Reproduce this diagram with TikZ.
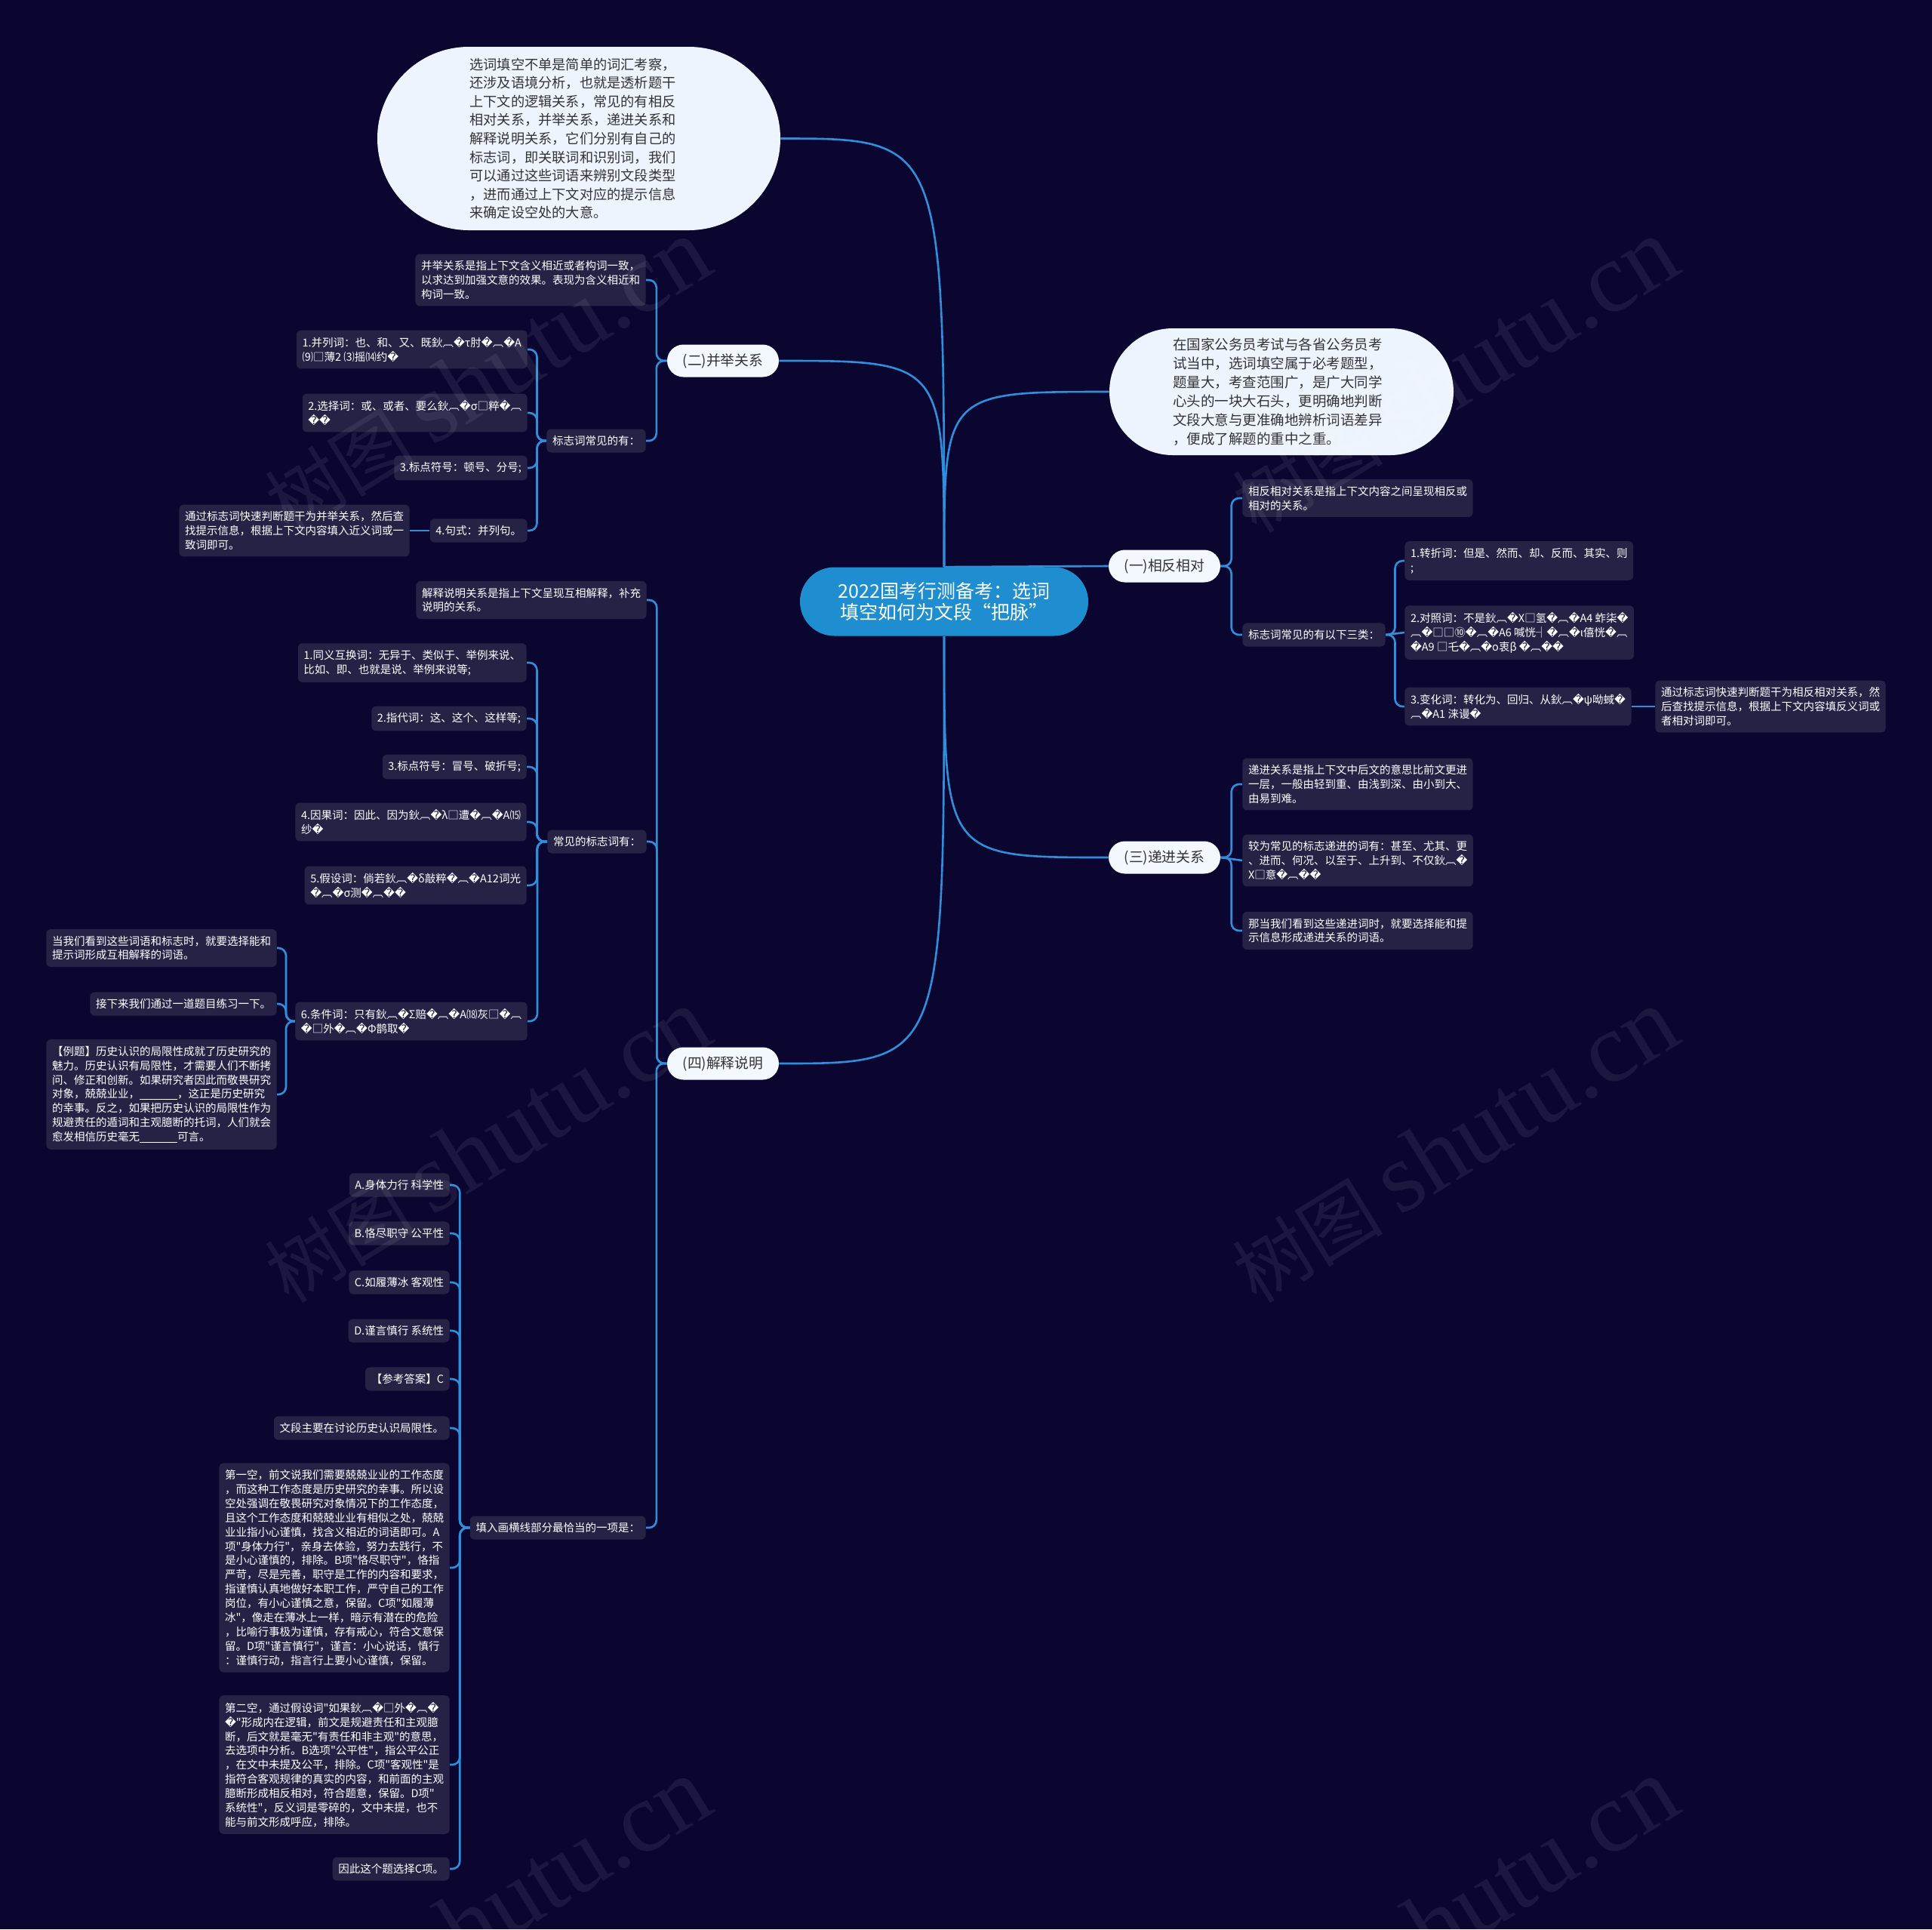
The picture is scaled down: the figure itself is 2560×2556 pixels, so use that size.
\documentclass[tikz,border=0pt]{standalone}
\usepackage{fontspec}
\setmainfont{Noto Sans CJK SC}[Ligatures=TeXOff]
\newfontfamily\dejavu{DejaVu Sans}
\newfontfamily\wmlat{Liberation Serif}
\usetikzlibrary{shapes.misc,calc}
\definecolor{bgc}{HTML}{0B0630}
\definecolor{boxc}{HTML}{262246}
\definecolor{linec}{HTML}{2E8FDC}
\definecolor{cenc}{HTML}{1E8ED0}
\definecolor{bubc}{HTML}{EEF4FD}
\definecolor{pillc}{HTML}{F3F7FE}
\definecolor{txtd}{HTML}{333333}
\newcommand\Q{{\dejavu\char"FFFD}}
\newcommand\fillblank{\rule[-1.2pt]{25pt}{0.45pt}}
\newcommand\elbow[2]{\coordinate (em) at ($(#1)!0.5!(#2)$);
  \draw[conn,rounded corners=5pt] (#1) -- (em |- #1) -- (em |- #2) -- (#2);}
\pgfdeclarelayer{bglayer}\pgfdeclarelayer{connlayer}\pgfdeclarelayer{wmlayer}
\pgfsetlayers{bglayer,connlayer,main,wmlayer}
\tikzset{
  conn/.style={draw=linec, line width=1.3pt},
  box/.style={fill=boxc, rounded corners=3pt, text=white, align=left,
    font=\fontsize{7.25pt}{9.45pt}\selectfont, inner xsep=3.8pt, inner ysep=4.4pt},
  pill/.style={rounded rectangle, fill=pillc, text=txtd, inner sep=0pt,
    font=\fontsize{9.4pt}{11pt}\selectfont, minimum width=74pt, minimum height=21.5pt},
  bubble/.style={rounded rectangle, fill=bubc, text=txtd, align=left, inner sep=0pt},
  wm/.style={rotate=31.7, text=white, opacity=0.07, inner sep=0pt},
}
\begin{document}
\begin{tikzpicture}[x=0.5pt,y=-0.5pt]
\begin{pgfonlayer}{bglayer}
\fill[bgc] (0,0) rectangle (2560,2556);
\end{pgfonlayer}
\useasboundingbox (0,0) rectangle (2560,2556);

% centre
\node[rounded rectangle, fill=cenc, text=white, align=center, inner sep=0pt,
  font=\fontsize{12.5pt}{14pt}\selectfont, minimum width=191pt, minimum height=45.5pt]
  (cen) at (1251,797) {2022国考行测备考：选词\\填空如何为文段“把脉”};

% bubbles
\node[bubble, font=\fontsize{9.1pt}{12.3pt}\selectfont, minimum width=267pt, minimum height=121.5pt]
  (tb) at (767,183.5) {选词填空不单是简单的词汇考察，\hspace*{8pt}\\还涉及语境分析，也就是透析题干\\上下文的逻辑关系，常见的有相反\\相对关系，并举关系，递进关系和\\解释说明关系，它们分别有自己的\\标志词，即关联词和识别词，我们\\可以通过这些词语来辨别文段类型\\，进而通过上下文对应的提示信息\\来确定设空处的大意。};
\node[bubble, font=\fontsize{9.25pt}{12.5pt}\selectfont, minimum width=228pt, minimum height=84pt]
  (rb) at (1698,519) {在国家公务员考试与各省公务员考\hspace*{5pt}\\试当中，选词填空属于必考题型，\\题量大，考查范围广，是广大同学\\心头的一块大石头，更明确地判断\\文段大意与更准确地辨析词语差异\\，便成了解题的重中之重。};

% section pills
\node[pill] (p2) at (958,478) {(二)并举关系};
\node[pill] (p1) at (1543,750) {(一)相反相对};
\node[pill] (p3) at (1543,1136) {(三)递进关系};
\node[pill] (p4) at (958,1409) {(四)解释说明};

% (二)
\node[box, anchor=east] (b2a) at (856,371) {并举关系是指上下文含义相近或者构词一致，\\以求达到加强文意的效果。表现为含义相近和\\构词一致。};
\node[box, anchor=east] (b2b) at (856,584) {标志词常见的有：};
\node[box, anchor=east] (b2c1) at (699,463) {1.并列词：也、和、又、既鈥︹\Q{}τ肘\Q{}︹\Q{}A\\⑼□薄2 ⑶摇⒁约\Q};
\node[box, anchor=east] (b2c2) at (699,547) {2.选择词：或、或者、要么鈥︹\Q{}σ□粹\Q{}︹\\\Q\Q};
\node[box, anchor=east] (b2c3) at (699,620) {3.标点符号：顿号、分号;};
\node[box, anchor=east] (b2c4) at (699,703) {4.句式：并列句。};
\node[box, anchor=east] (b2c4a) at (543,703) {通过标志词快速判断题干为并举关系，然后查\\找提示信息，根据上下文内容填入近义词或一\\致词即可。};

% (一)
\node[box, anchor=west] (a1) at (1646,660) {相反相对关系是指上下文内容之间呈现相反或\\相对的关系。};
\node[box, anchor=west] (a2) at (1646,841) {标志词常见的有以下三类：};
\node[box, anchor=west] (a2c1) at (1861,743) {1.转折词：但是、然而、却、反而、其实、则\\;};
\node[box, anchor=west] (a2c2) at (1861,838) {2.对照词：不是鈥︹\Q{}X□氢\Q{}︹\Q{}A4 蚱柒\Q\\︹\Q{}□□⑩\Q{}︹\Q{}A6 喊恍┤\Q{}︹\Q{}ι僖恍\Q{}︹\\\Q{}A9 □乇\Q{}︹\Q{}о衷β \Q{}︹\Q\Q};
\node[box, anchor=west] (a2c3) at (1861,936) {3.变化词：转化为、回归、从鈥︹\Q{}ψ呦蜮\Q\\︹\Q{}A1 涞谩\Q};
\node[box, anchor=west] (a2c3a) at (2193,936) {通过标志词快速判断题干为相反相对关系，然\\后查找提示信息，根据上下文内容填反义词或\\者相对词即可。};

% (三)
\node[box, anchor=west] (c1) at (1646,1039) {递进关系是指上下文中后文的意思比前文更进\\一层，一般由轻到重、由浅到深、由小到大、\\由易到难。};
\node[box, anchor=west] (c2) at (1646,1140) {较为常见的标志递进的词有：甚至、尤其、更\\、进而、何况、以至于、上升到、不仅鈥︹\Q\\X□意\Q{}︹\Q\Q};
\node[box, anchor=west] (c3) at (1646,1233) {那当我们看到这些递进词时，就要选择能和提\\示信息形成递进关系的词语。};

% (四)
\node[box, anchor=east] (d1) at (857,795) {解释说明关系是指上下文呈现互相解释，补充\\说明的关系。};
\node[box, anchor=east] (d2) at (857,1115) {常见的标志词有：};
\node[box, anchor=east] (d2c1) at (698,878) {1.同义互换词：无异于、类似于、举例来说、\\比如、即、也就是说、举例来说等;};
\node[box, anchor=east] (d2c2) at (698,952) {2.指代词：这、这个、这样等;};
\node[box, anchor=east] (d2c3) at (698,1016) {3.标点符号：冒号、破折号;};
\node[box, anchor=east] (d2c4) at (698,1089) {4.因果词：因此、因为鈥︹\Q{}λ□遭\Q{}︹\Q{}A⒂\\纱\Q};
\node[box, anchor=east] (d2c5) at (698,1173) {5.假设词：倘若鈥︹\Q{}δ敲粹\Q{}︹\Q{}A12词光\\\Q{}︹\Q{}σ测\Q{}︹\Q\Q};
\node[box, anchor=east] (d2c6) at (699,1353) {6.条件词：只有鈥︹\Q{}Σ赔\Q{}︹\Q{}A⒅灰□\Q{}︹\\\Q{}□外\Q{}︹\Q{}Φ鹊取\Q};
\node[box, anchor=east] (d2c6a) at (367,1256) {当我们看到这些词语和标志时，就要选择能和\\提示词形成互相解释的词语。};
\node[box, anchor=east] (d2c6b) at (367,1330) {接下来我们通过一道题目练习一下。};
\node[box, anchor=east] (d2c6c) at (367,1450) {【例题】历史认识的局限性成就了历史研究的\\魅力。历史认识有局限性，才需要人们不断拷\\问、修正和创新。如果研究者因此而敬畏研究\\对象，兢兢业业，\fillblank，这正是历史研究\\的幸事。反之，如果把历史认识的局限性作为\\规避责任的遁词和主观臆断的托词，人们就会\\愈发相信历史毫无\fillblank 可言。};
\node[box, anchor=east] (d3) at (856,2024) {填入画横线部分最恰当的一项是：};
\node[box, anchor=east] (e1) at (596,1570) {A.身体力行 科学性};
\node[box, anchor=east] (e2) at (596,1634) {B.恪尽职守 公平性};
\node[box, anchor=east] (e3) at (596,1699) {C.如履薄冰 客观性};
\node[box, anchor=east] (e4) at (596,1763) {D.谨言慎行 系统性};
\node[box, anchor=east] (e5) at (596,1827) {【参考答案】C};
\node[box, anchor=east] (e6) at (596,1892) {文段主要在讨论历史认识局限性。};
\node[box, anchor=east] (e7) at (596,2077) {第一空，前文说我们需要兢兢业业的工作态度\\，而这种工作态度是历史研究的幸事。所以设\\空处强调在敬畏研究对象情况下的工作态度，\\且这个工作态度和兢兢业业有相似之处，兢兢\\业业指小心谨慎，找含义相近的词语即可。A\\项"身体力行"，亲身去体验，努力去践行，不\\是小心谨慎的，排除。B项"恪尽职守"，恪指\\严苛，尽是完善，职守是工作的内容和要求，\\指谨慎认真地做好本职工作，严守自己的工作\\岗位，有小心谨慎之意，保留。C项"如履薄\\冰"，像走在薄冰上一样，暗示有潜在的危险\\，比喻行事极为谨慎，存有戒心，符合文意保\\留。D项"谨言慎行"，谨言：小心说话，慎行\\：谨慎行动，指言行上要小心谨慎，保留。};
\node[box, anchor=east] (e8) at (596,2338) {第二空，通过假设词"如果鈥︹\Q{}□外\Q{}︹\Q\\\Q"形成内在逻辑，前文是规避责任和主观臆\\断，后文就是毫无"有责任和非主观"的意思，\\去选项中分析。B选项"公平性"，指公平公正\\，在文中未提及公平，排除。C项"客观性"是\\指符合客观规律的真实的内容，和前面的主观\\臆断形成相反相对，符合题意，保留。D项"\\系统性"，反义词是零碎的，文中未提，也不\\能与前文形成呼应，排除。};
\node[box, anchor=east] (e9) at (596,2476) {因此这个题选择C项。};

% connectors
\begin{pgfonlayer}{connlayer}
\draw[conn] (cen.north) .. controls (cen.north |- tb.east) .. (tb.east);
\draw[conn] (cen.north) .. controls (cen.north |- p2.east) .. (p2.east);
\draw[conn] (cen.north) .. controls (cen.north |- rb.west) .. (rb.west);
\draw[conn] (cen.north) -- (p1.west);
\draw[conn] (cen.south) .. controls (cen.south |- p3.west) .. (p3.west);
\draw[conn] (cen.south) .. controls (cen.south |- p4.east) .. (p4.east);
\elbow{p2.west}{b2a.east}
\elbow{p2.west}{b2b.east}
\elbow{b2b.west}{b2c1.east}
\elbow{b2b.west}{b2c2.east}
\elbow{b2b.west}{b2c3.east}
\elbow{b2b.west}{b2c4.east}
\draw[conn] (b2c4.west) -- (b2c4a.east);
\elbow{p1.east}{a1.west}
\elbow{p1.east}{a2.west}
\elbow{a2.east}{a2c1.west}
\draw[conn] (a2.east) -- (a2c2.west);
\elbow{a2.east}{a2c3.west}
\draw[conn] (a2c3.east) -- (a2c3a.west);
\elbow{p3.east}{c1.west}
\draw[conn] (p3.east) -- (c2.west);
\elbow{p3.east}{c3.west}
\elbow{p4.west}{d1.east}
\elbow{p4.west}{d2.east}
\elbow{p4.west}{d3.east}
\elbow{d2.west}{d2c1.east}
\elbow{d2.west}{d2c2.east}
\elbow{d2.west}{d2c3.east}
\elbow{d2.west}{d2c4.east}
\elbow{d2.west}{d2c5.east}
\elbow{d2.west}{d2c6.east}
\elbow{d2c6.west}{d2c6a.east}
\elbow{d2c6.west}{d2c6b.east}
\elbow{d2c6.west}{d2c6c.east}
\foreach \e in {e1,e2,e3,e4,e5,e6,e7,e8,e9}{\elbow{d3.west}{\e.east}}
\end{pgfonlayer}

% watermarks
\begin{pgfonlayer}{wmlayer}
\foreach \wx/\wy [count=\i] in {645/498,1927/498,645/1518,1927/1518,645/2538,1927/2538}{
  \node[wm] (wm\i) at (\wx,\wy) {\fontsize{50pt}{50pt}\selectfont 树图\ {\wmlat\fontsize{66pt}{66pt}\selectfont shutu.cn}};
}
\end{pgfonlayer}
\end{tikzpicture}
\end{document}
